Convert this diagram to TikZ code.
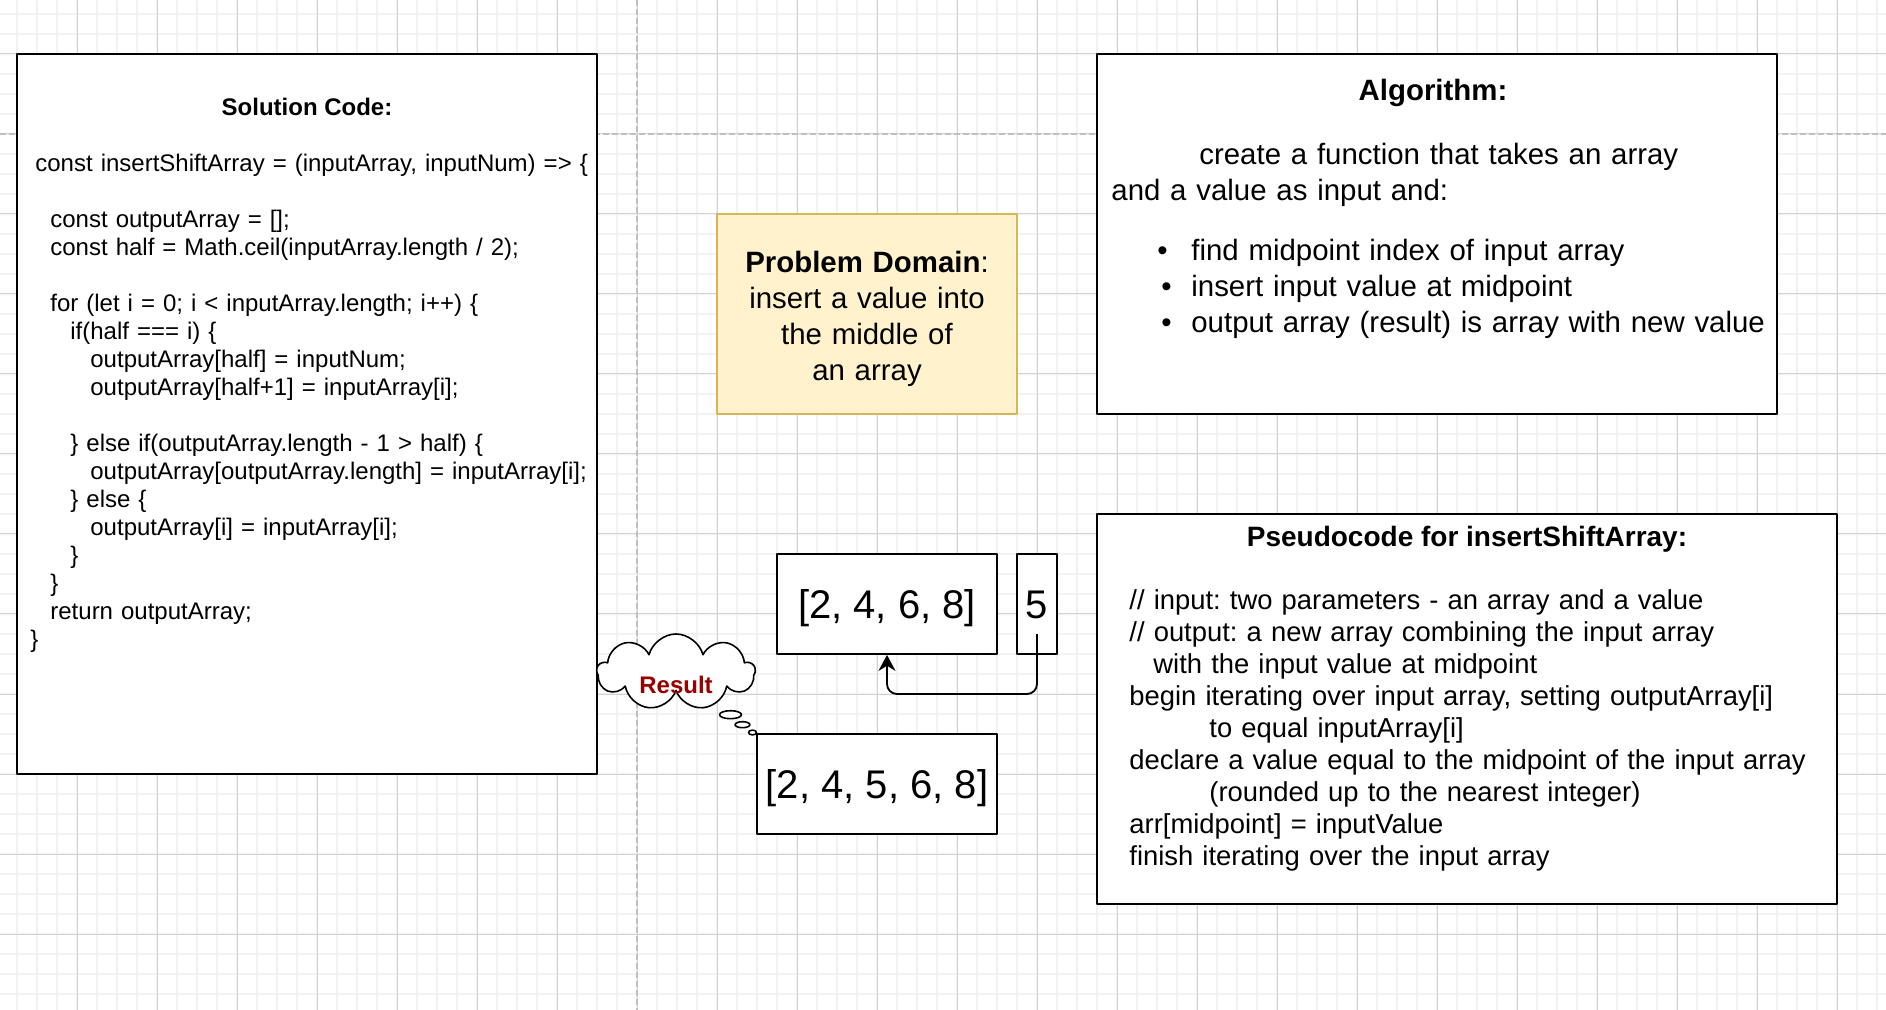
\documentclass[tikz,border=0pt]{standalone}
\usepackage{fontspec}
\setmainfont{Liberation Sans}
\frenchspacing
\usetikzlibrary{shapes.symbols,arrows.meta}
\definecolor{gridminor}{HTML}{F2F2F2}
\definecolor{gridmajor}{HTML}{D2D2D2}
\definecolor{pagebreak}{HTML}{C0C0C0}
\definecolor{domainfill}{HTML}{FFF2CC}
\definecolor{domainline}{HTML}{D6B656}
\definecolor{resultred}{HTML}{990000}

\begin{document}
\begin{tikzpicture}[x=0.5pt, y=-0.5pt, line join=round, >={Stealth[length=8pt,width=8.5pt]},
  panel/.style={draw, line width=0.9pt, fill=white, inner sep=0pt},
  arraybox/.style={panel, minimum height=50pt, text height=14.5pt, text depth=0pt,
    font=\fontsize{20pt}{24pt}\selectfont},
  heading/.style={anchor=base, inner sep=0pt},
  block/.style={anchor=base west, inner sep=0pt, align=left},
  bubble/.style={draw, fill=white, line width=0.8pt}]
  \useasboundingbox (0,0) rectangle (1886,1010);
  \fill[white] (0,0) rectangle (1886,1010);
  % grid
  \foreach \x in {17,37,...,1877} \draw[gridminor, line width=1pt] (\x,0) -- (\x,1010);
  \foreach \y in {14,34,...,1004} \draw[gridminor, line width=1pt] (0,\y) -- (1886,\y);
  \foreach \x in {77,157,...,1837} \draw[gridmajor, line width=0.5pt] (\x,0) -- (\x,1010);
  \foreach \y in {54,134,...,934} \draw[gridmajor, line width=0.5pt] (0,\y) -- (1886,\y);
  \draw[pagebreak, line width=1pt, dash pattern=on 3pt off 1.5pt] (637,0) -- (637,1010) (0,134) -- (1886,134);

  % panels
  \node[panel, minimum width=290pt, minimum height=360pt] (solution) at (307,414) {};
  \node[panel, fill=domainfill, draw=domainline, minimum width=150pt, minimum height=100pt] (domain) at (867,314) {};
  \node[panel, minimum width=340pt, minimum height=180pt] (algorithm) at (1437,234) {};
  \node[panel, minimum width=370pt, minimum height=195pt] (pseudo) at (1467,709) {};

  % problem domain
  \node[block, anchor=base, align=center, text width=145pt, font=\fontsize{14.7pt}{18pt}\selectfont]
    (domaintext) at (867,273) {\textbf{Problem Domain}:\\insert a value into\\the middle of\\an array};

  % solution code
  \node[heading, font=\bfseries\fontsize{12pt}{14pt}\selectfont] (solutiontitle) at (307,116) {Solution Code:};
  \node[block, text width=290pt, font=\fontsize{12pt}{14pt}\selectfont] (code) at (30,172) {%
    \hspace*{2.5pt}const insertShiftArray = (inputArray, inputNum) => \{\\[14pt]
    \hspace*{10pt}const outputArray = [];\\
    \hspace*{10pt}const half = Math.ceil(inputArray.length / 2);\\[14pt]
    \hspace*{10pt}for (let i = 0; i < inputArray.length; i++) \{\\
    \hspace*{20pt}if(half === i) \{\\
    \hspace*{30pt}outputArray[half] = inputNum;\\
    \hspace*{30pt}outputArray[half+1] = inputArray[i];\\[14pt]
    \hspace*{20pt}\} else if(outputArray.length - 1 > half) \{\\
    \hspace*{30pt}outputArray[outputArray.length] = inputArray[i];\\
    \hspace*{20pt}\} else \{\\
    \hspace*{30pt}outputArray[i] = inputArray[i];\\
    \hspace*{20pt}\}\\
    \hspace*{10pt}\}\\
    \hspace*{10pt}return outputArray;\\
    \}};

  % algorithm
  \node[heading, font=\bfseries\fontsize{14.7pt}{18pt}\selectfont] (algorithmtitle) at (1433,101) {Algorithm:};
  \node[block, text width=335pt, font=\fontsize{14.7pt}{18pt}\selectfont] (steps) at (1111,165) {%
    \hspace*{44pt}create a function that takes an array\\
    and a value as input and:\\[12pt]
    \hspace*{23pt}\makebox[17pt][l]{\textbullet}find midpoint index of input array\\
    \hspace*{25pt}\makebox[15pt][l]{\textbullet}insert input value at midpoint\\
    \hspace*{25pt}\makebox[15pt][l]{\textbullet}output array (result) is array with new value};

  % pseudocode
  \node[heading, font=\bfseries\fontsize{14pt}{16pt}\selectfont] (pseudotitle) at (1467,546) {Pseudocode for insertShiftArray:};
  \node[block, text width=350pt, font=\fontsize{13.7pt}{16pt}\selectfont] (pseudolines) at (1129,610) {%
    // input: two parameters - an array and a value\\
    // output: a new array combining the input array\\
    \hspace*{12pt}with the input value at midpoint\\
    begin iterating over input array, setting outputArray[i]\\
    \hspace*{40pt}to equal inputArray[i]\\
    declare a value equal to the midpoint of the input array\\
    \hspace*{40pt}(rounded up to the nearest integer)\\
    arr[midpoint] = inputValue\\
    finish iterating over the input array};

  % arrays
  \node[arraybox, minimum width=110pt] (arr) at (887,604) {[2, 4, 6, 8]};
  \node[arraybox, minimum width=20pt] (five) at (1037,604) {5};
  \node[arraybox, minimum width=120pt] (res) at (877,784) {[2, 4, 5, 6, 8]};
  \coordinate (fivetail) at (1037,634);
  \draw[->, line width=0.9pt, rounded corners=5pt] (fivetail) -- ++(0,60) -| (arr.south);

  % result bubble
  \node[cloud, cloud puffs=9, aspect=2, bubble, minimum width=79pt, minimum height=38pt,
    inner sep=0pt, text=resultred, font=\bfseries\fontsize{12pt}{14pt}\selectfont]
    (result) at (676,672) {\raisebox{-10.5pt}[0pt][0pt]{Result}};
  \draw[bubble] (730.5,714.7) ellipse [x radius=5.5pt, y radius=2pt];
  \draw[bubble] (742.5,724.7) ellipse [x radius=3.7pt, y radius=1.5pt];
  \draw[bubble] (752.5,732.5) ellipse [x radius=2pt, y radius=1.2pt];
\end{tikzpicture}
\end{document}
